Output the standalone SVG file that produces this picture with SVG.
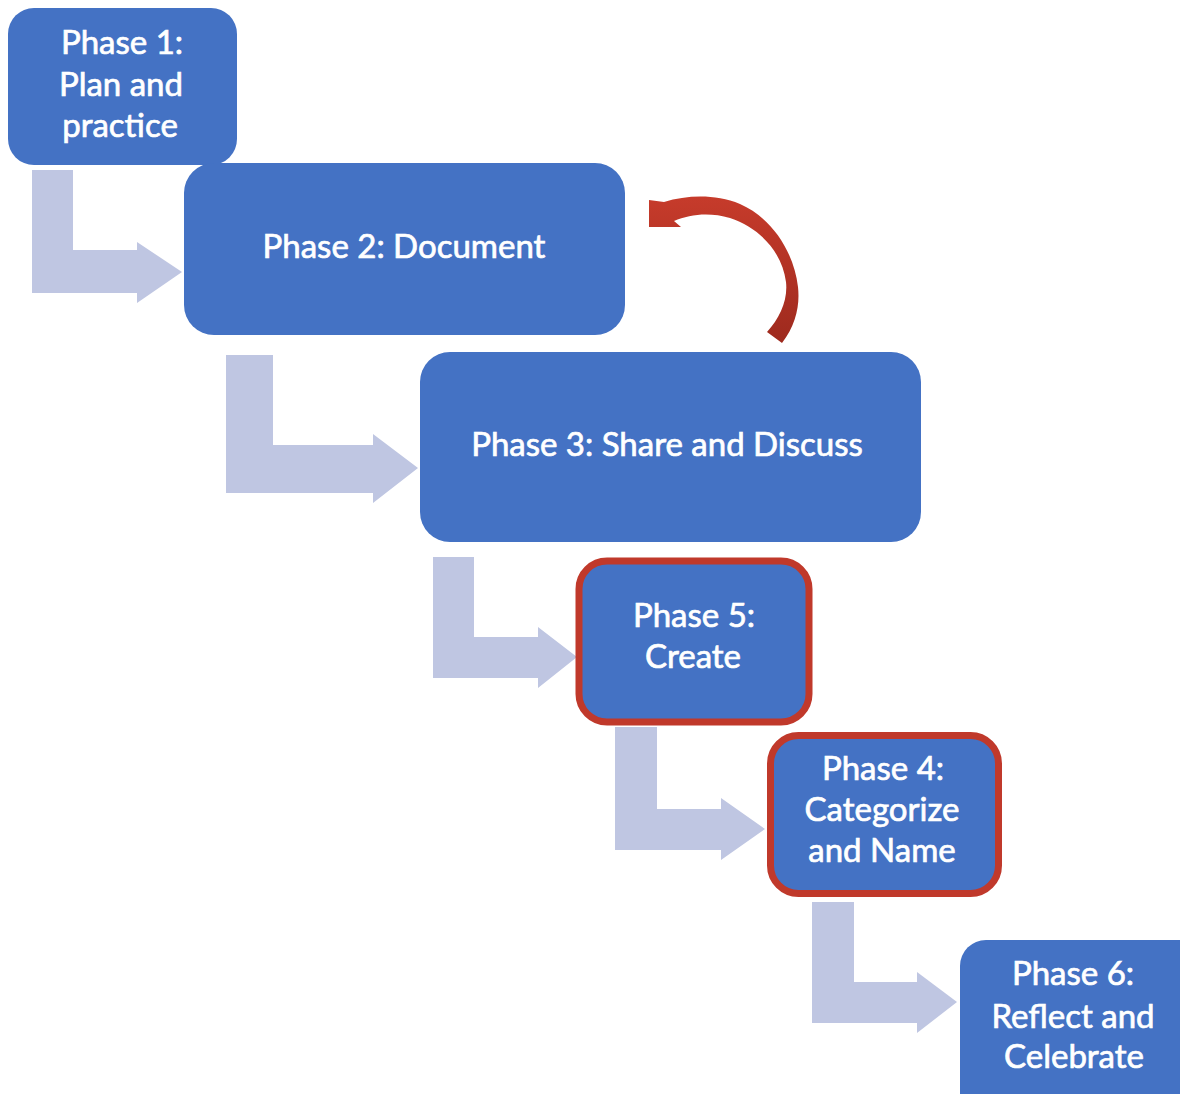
<svg xmlns="http://www.w3.org/2000/svg" width="1180" height="1094" viewBox="0 0 1180 1094">
  <style>
    .box { fill: #4472C4; }
    .hl { fill: #4472C4; stroke: #C0392B; stroke-width: 7; }
    .bent { fill: #BFC6E2; }
    .lbl { fill: #FFFFFF; stroke: #FFFFFF; stroke-width: 0.7; font-family: Lato, "Open Sans", "Liberation Sans", sans-serif; font-size: 33px; text-anchor: middle; }
  </style>
  <defs>
    <linearGradient id="redGrad" x1="0" y1="0" x2="0" y2="1">
      <stop offset="0" stop-color="#C63B2B"/>
      <stop offset="1" stop-color="#9E2A1E"/>
    </linearGradient>
  </defs>
  <rect width="1180" height="1094" fill="#FFFFFF"/>

  <g id="connectors">
    <path class="bent" d="M32,170 L73,170 L73,250 L137,250 L137,242 L182,272 L137,303 L137,293 L32,293 Z"/>
    <path class="bent" d="M226,355 L273,355 L273,445 L373,445 L373,434 L418,468 L373,503 L373,493 L226,493 Z"/>
    <path class="bent" d="M433,557 L474,557 L474,637 L538,637 L538,627 L577,657 L538,688 L538,678 L433,678 Z"/>
    <path class="bent" d="M615,727 L657,727 L657,809 L721,809 L721,798 L765,829 L721,860 L721,850 L615,850 Z"/>
    <path class="bent" d="M812,902 L854,902 L854,982 L917,982 L917,972 L957,1002 L917,1033 L917,1023 L812,1023 Z"/>
    <path id="loop-arrow" fill="url(#redGrad)" d="M649,200 L649,227 L681,227 L674,221 C690,214 710,212 730,218 C760,228 782,252 786,282 C788,300 780,318 767,332 L782,343 C796,325 800,305 798,287 C794,252 772,218 740,204 C715,194 688,195 664,202 Z"/>
  </g>

  <g id="phase1">
    <rect class="box" x="8" y="8" width="229" height="157" rx="26"/>
    <text class="lbl" x="122" y="54">Phase 1:</text>
    <text class="lbl" x="121" y="96">Plan and</text>
    <text class="lbl" x="120" y="137">practice</text>
  </g>
  <g id="phase2">
    <rect class="box" x="184" y="163" width="441" height="172" rx="30"/>
    <text class="lbl" x="404" y="258">Phase 2: Document</text>
  </g>
  <g id="phase3">
    <rect class="box" x="420" y="352" width="501" height="190" rx="30"/>
    <text class="lbl" x="667" y="456">Phase 3: Share and Discuss</text>
  </g>
  <g id="phase5">
    <rect class="hl" x="579" y="561" width="230" height="161" rx="28"/>
    <text class="lbl" x="694" y="627">Phase 5:</text>
    <text class="lbl" x="693" y="668">Create</text>
  </g>
  <g id="phase4">
    <rect class="hl" x="770.5" y="735.5" width="228" height="158" rx="28"/>
    <text class="lbl" x="883" y="780">Phase 4:</text>
    <text class="lbl" x="882" y="821">Categorize</text>
    <text class="lbl" x="882" y="862">and Name</text>
  </g>
  <g id="phase6">
    <rect class="box" x="960" y="940" width="250" height="180" rx="26"/>
    <text class="lbl" x="1073" y="985">Phase 6:</text>
    <text class="lbl" x="1073" y="1028">Reflect and</text>
    <text class="lbl" x="1074" y="1068">Celebrate</text>
  </g>
</svg>
